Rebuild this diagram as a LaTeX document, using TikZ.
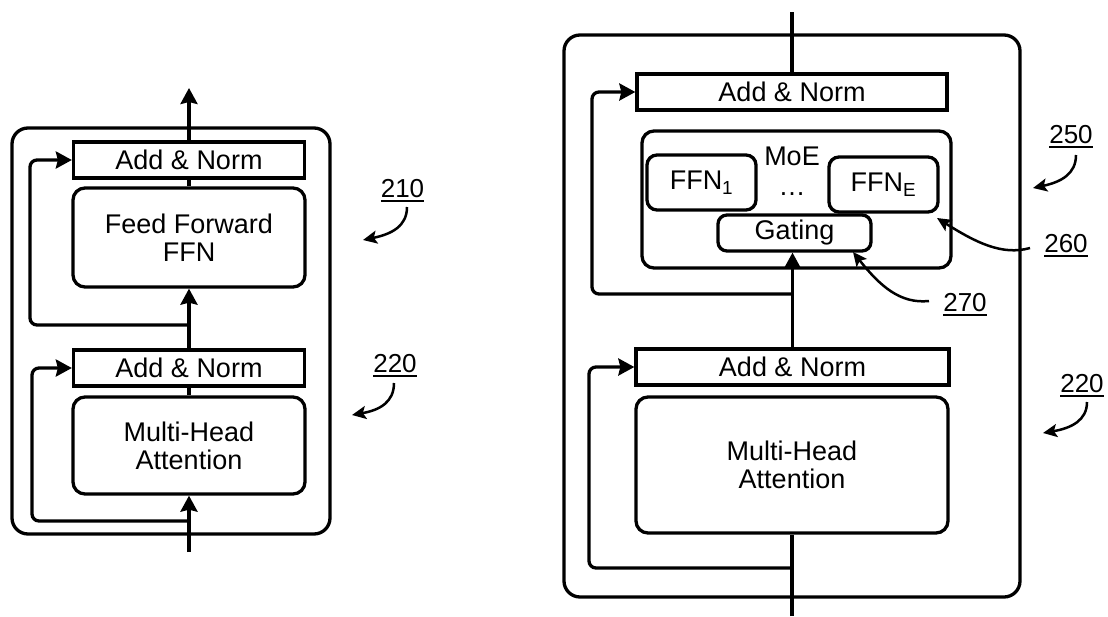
\documentclass[tikz,border=0pt]{standalone}
\usepackage{fontspec}
\setmainfont{Liberation Sans}
\usetikzlibrary{arrows.meta}
\newcommand\ulab[1]{\setbox0\hbox{#1}\rlap{\rule[-5pt]{\wd0}{2.4pt}}\box0}
\begin{document}
\begin{tikzpicture}[x=1pt,y=-1pt, line width=3.3pt,
  txt/.style={font=\fontsize{27}{28}\selectfont},
  box/.style={draw, rectangle, inner sep=0pt, txt, align=center},
  rbox/.style={box, rounded corners=12pt},
  outer/.style={draw, rounded corners=16pt, inner sep=0pt},
  arr/.style={-{Stealth[length=16pt,width=17pt,inset=2pt]}},
  res/.style={arr, rounded corners=7pt},
  lab/.style={font=\fontsize{26}{28}\selectfont, inner sep=0pt, anchor=base},
  larr/.style={line width=2.5pt, -{Stealth[length=14pt,width=13pt,inset=3pt]}}
]
\useasboundingbox (0,0) rectangle (1108,616);

% ---------- left block ----------
\node[outer, minimum width=318pt, minimum height=406pt] (outL) at (171,331) {};
\node[box, minimum width=231pt, minimum height=36pt] (anL1) at (189,160) {Add \& Norm};
\node[rbox, minimum width=232pt, minimum height=99pt] (ffn) at (189,237.5) {Feed Forward\\FFN};
\node[box, minimum width=231pt, minimum height=36pt] (anL2) at (189,368) {Add \& Norm};
\node[rbox, minimum width=232pt, minimum height=97pt] (mhaL) at (189,445.5) {Multi-Head\\Attention};

\coordinate (topL) at (189,88);
\coordinate (botL) at (189,552);
\coordinate (sL1) at (189,325);
\coordinate (sL2) at (189,521);

\draw[arr] (anL1.north) -- (topL);
\draw (ffn.north) -- (anL1.south);
\draw[arr] (anL2.north) -- (ffn.south);
\draw (mhaL.north) -- (anL2.south);
\draw[arr] (botL) -- (mhaL.south);
\draw[res] (sL1) -- (30,325) |- (anL1.west);
\draw[res] (sL2) -- (32,521) |- (anL2.west);

% ---------- right block ----------
\node[outer, minimum width=456pt, minimum height=562pt] (outR) at (792,316) {};
\node[box, minimum width=310pt, minimum height=36pt] (anR1) at (792,92) {Add \& Norm};
\node[rbox, minimum width=309pt, minimum height=137pt] (moe) at (796.5,199.5) {};
\node[txt, inner sep=0pt] (moelab) at (792,156) {MoE};
\node[rbox, rounded corners=10pt, minimum width=109pt, minimum height=55pt] (ffn1) at (701.5,182.5) {FFN\textsubscript{1}};
\node[rbox, rounded corners=10pt, minimum width=109pt, minimum height=55pt] (ffnE) at (883.5,184.5) {FFN\textsubscript{E}};
\node[txt, inner sep=0pt] (dots) at (792,194) {\dots};
\node[rbox, rounded corners=9pt, minimum width=153pt, minimum height=36pt] (gate) at (794.5,233) {Gating};
\node[box, minimum width=313pt, minimum height=36pt] (anR2) at (792.5,367) {Add \& Norm};
\node[rbox, minimum width=312pt, minimum height=136pt] (mhaR) at (792,465) {Multi-Head\\Attention};

\coordinate (topR) at (792,12);
\coordinate (botR) at (792,616);
\coordinate (sR1) at (792,294);
\coordinate (sR2) at (792,568);

\draw (anR1.north) -- (topR);
\draw[arr] (anR2.north) -- (anR2.north |- gate.south);
\draw (botR) -- (mhaR.south);
\draw[res] (sR1) -- (592,294) |- (anR1.west);
\draw[res] (sR2) -- (589,568) |- (anR2.west);

% ---------- reference labels ----------
\node[lab] (l210) at (402.5,197) {\ulab{210}};
\node[lab] (l220a) at (395,372) {\ulab{220}};
\node[lab] (l250) at (1071,143) {\ulab{250}};
\node[lab] (l260) at (1066,252) {\ulab{260}};
\node[lab] (l270) at (965,311) {\ulab{270}};
\node[lab] (l220b) at (1082,392) {\ulab{220}};

\coordinate (s210) at (407,207);   \coordinate (t210) at (363,240);
\coordinate (s220a) at (394,383);  \coordinate (t220a) at (352,415);
\coordinate (s250) at (1076,155);  \coordinate (t250) at (1033,188);
\coordinate (s220b) at (1087,402); \coordinate (t220b) at (1043,433);
\coordinate (s260) at (1030,248);  \coordinate (t260) at (937,218);
\coordinate (s270) at (929,301);   \coordinate (t270) at (853,252);

\draw[larr] (s210) .. controls (407,226) and (392,234) .. (t210);
\draw[larr] (s220a) .. controls (394,402) and (380,410) .. (t220a);
\draw[larr] (s250) .. controls (1076,174) and (1061,182) .. (t250);
\draw[larr] (s220b) .. controls (1087,420) and (1072,428) .. (t220b);
\draw[larr] (s260) .. controls (1002,256) and (975,242) .. (t260);
\draw[larr] (s270) .. controls (900,304) and (880,286) .. (t270);
\end{tikzpicture}
\end{document}
